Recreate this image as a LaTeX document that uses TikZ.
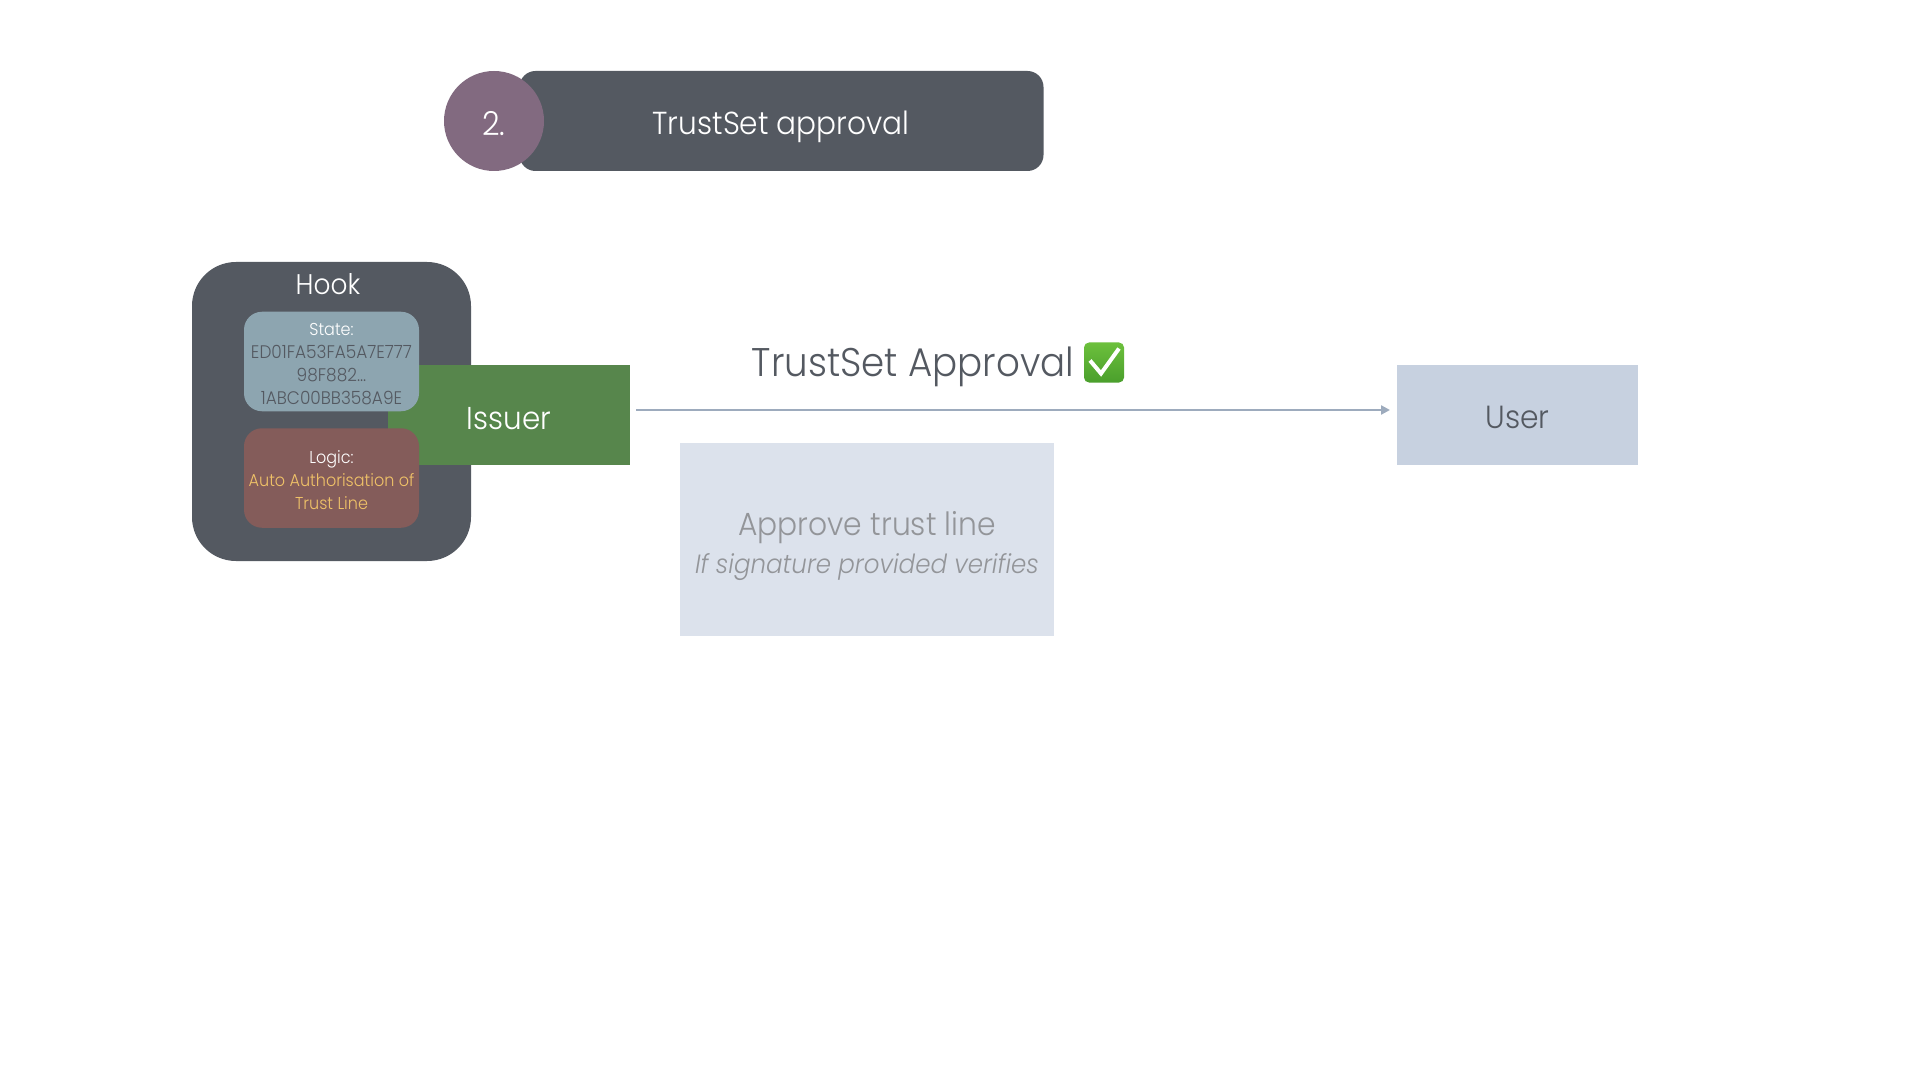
\documentclass[tikz,border=0pt]{standalone}
\usepackage{fontspec}
\setmainfont{Poppins Light}[ItalicFont={Poppins Light Italic},FakeStretch=0.93]
\usetikzlibrary{arrows.meta}
\definecolor{dark}{HTML}{545961}
\definecolor{plum}{HTML}{826A80}
\definecolor{statebg}{HTML}{8DA5B0}
\definecolor{logicbg}{HTML}{845C5A}
\definecolor{amber}{HTML}{F0C268}
\definecolor{leaf}{HTML}{57864C}
\definecolor{userbg}{HTML}{C7D1E0}
\definecolor{notebg}{HTML}{DCE2EC}
\definecolor{notetxt}{HTML}{939599}
\definecolor{wire}{HTML}{9DABBD}
\definecolor{ticktop}{HTML}{6CC03C}
\definecolor{tickbot}{HTML}{4A9F2C}
\tikzset{
 x=0.5pt,y=-0.5pt,
 plain/.style={inner sep=0pt,outer sep=0pt,align=center},
 panel/.style={plain,rounded corners=9pt,minimum width=87.5pt,minimum height=49.75pt},
 paneltext/.style={plain,font=\fontsize{8.6}{11.5}\selectfont},
 wire line/.style={draw=wire,line width=1.4pt,-{Triangle[length=4.5pt,width=4.5pt]}}
}
\begin{document}
\begin{tikzpicture}
\useasboundingbox (0,0) rectangle (1920,1080);
\fill[white] (0,0) rectangle (1920,1080);
% title
\node[plain,fill=dark,rounded corners=8pt,minimum width=262pt,minimum height=50pt] (title) at (781.5,121) {};
\node[plain,fill=plum,circle,minimum size=50pt] (num) at (494,121) {};
\node[plain,text=white,font=\fontsize{16.5}{18}\selectfont] (numlabel) at (494,124) {2.};
\node[plain,text=white,font=\fontsize{15.9}{18}\selectfont] (titletxt) at (781,127) {TrustSet approval};
% hook
\node[plain,fill=dark,rounded corners=22pt,minimum width=139.5pt,minimum height=149.5pt] (hook) at (331.5,411.5) {};
\node[plain,text=white,font=\fontsize{14.2}{18}\selectfont] (hooklabel) at (328,284.5) {Hook};
% issuer
\node[plain,fill=leaf,minimum width=121pt,minimum height=50pt] (issuer) at (509,415) {};
\node[plain,text=white,font=\fontsize{15.8}{18}\selectfont] (issuerlabel) at (509,418.5) {Issuer};
% state / logic
\node[panel,fill=statebg] (state) at (331.5,361.5) {};
\node[paneltext,text=dark] (statetxt) at (331.5,364) {{\color{white}State:}\\\fontsize{9.1}{11.5}\selectfont ED01FA53FA5A7E777\\\fontsize{9.1}{11.5}\selectfont 98F882...\\\fontsize{9.1}{11.5}\selectfont 1ABC00BB358A9E};
\node[panel,fill=logicbg] (logic) at (331.5,478) {};
\node[paneltext,text=amber] (logictxt) at (331.5,480) {{\color{white}Logic:}\\Auto Authorisation of\\Trust Line};
% user
\node[plain,fill=userbg,minimum width=120.5pt,minimum height=50pt] (user) at (1517.5,415) {};
\node[plain,text=dark,font=\fontsize{16}{18}\selectfont] (userlabel) at (1517.5,417.5) {User};
% connector
\draw[wire line] ([shift={(6,-5)}]issuer.east) -- ([shift={(-7,-5)}]user.west);
% label
\node[plain,text=dark,font=\fontsize{20}{24}\selectfont] (flowlabel) at (913,367) {TrustSet Approval};
\node[plain,rounded corners=2.5pt,top color=ticktop,bottom color=tickbot,minimum width=20pt,minimum height=20pt] (tick) at (1104,362.5) {};
\draw[white,line width=2pt,line join=miter] ([shift={(-14,-2)}]tick.center) -- ([shift={(-3,11)}]tick.center) -- ([shift={(15,-14)}]tick.center);
% note
\node[plain,fill=notebg,minimum width=187pt,minimum height=96.5pt] (note) at (867,539.5) {};
\node[plain,text=notetxt,font=\fontsize{16}{18}\selectfont] (notea) at (867,528) {Approve trust line};
\node[plain,text=notetxt,font=\fontsize{13.2}{16}\selectfont\itshape] (noteb) at (867,567) {If signature provided verifies};
\end{tikzpicture}
\end{document}
